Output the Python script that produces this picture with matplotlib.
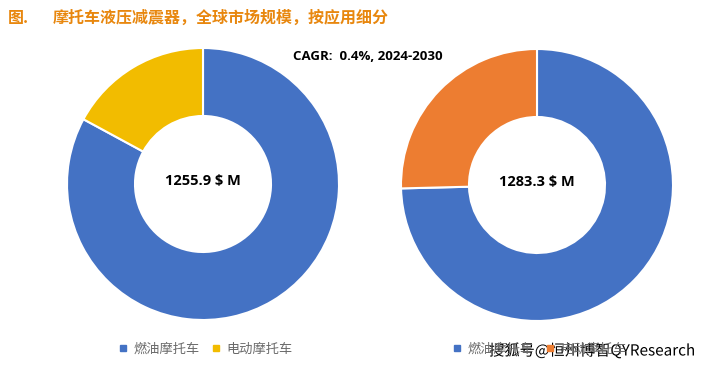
import matplotlib
matplotlib.use('Agg')
import matplotlib.pyplot as plt
from matplotlib.lines import Line2D
import matplotlib.patheffects as pe

plt.rcParams['font.family'] = ['Noto Sans CJK SC', 'DejaVu Sans']

# data
categories = ['燃油摩托车', '电动摩托车']
share_2024 = [82.9, 17.1]
share_2030 = [74.6, 25.4]
total_2024 = '1255.9 $ M'
total_2030 = '1283.3 $ M'
cagr_text = 'CAGR:  0.4%, 2024-2030'
title = '摩托车液压减震器，全球市场规模，按应用细分'

blue = '#4472C4'
yellow = '#F2BC00'
orange = '#ED7D31'
W, H = 716, 369

fig = plt.figure(figsize=(W / 100, H / 100), dpi=100)
fig.patch.set_facecolor('white')


def px_axes(x0, y0, x1, y1):
    return fig.add_axes([x0 / W, 1 - y1 / H, (x1 - x0) / W, (y1 - y0) / H])


def donut(ax, vals, cols, label):
    wedges, _ = ax.pie(vals, colors=cols, startangle=90, counterclock=False,
                       radius=1, wedgeprops=dict(width=0.5, edgecolor='white', linewidth=1.5))
    ax.set_xlim(-1, 1)
    ax.set_ylim(-1, 1)
    ax.text(0, 0.02, label, ha='center', va='center', fontsize=10.5,
            fontweight='bold', family=['Open Sans', 'DejaVu Sans'], color='black')
    ax.axis('off')
    return wedges


ax1 = px_axes(67, 48, 339, 320)
donut(ax1, share_2024, [blue, yellow], total_2024)

ax2 = px_axes(401, 49, 673, 321)
donut(ax2, share_2030, [blue, orange], total_2030)

# title
orange_t = '#E8870E'
fig.text(8 / W, 1 - 18 / H, '图.', color=orange_t, fontsize=11.5, fontweight='bold', va='center')
fig.text(53 / W, 1 - 18 / H, title, color=orange_t, fontsize=11.5, fontweight='bold', va='center')

fig.text(368 / W, 1 - 56 / H, cagr_text, ha='center', va='center', fontsize=9.5,
         fontweight='bold', family=['Open Sans', 'DejaVu Sans'])

# legends
def legend_at(x, cols):
    handles = [Line2D([], [], marker='s', linestyle='none', markersize=4,
                      markerfacecolor=c, markeredgecolor=c) for c in cols]
    fig.legend(handles, categories, loc='center left', bbox_to_anchor=(x / W, 1 - 349 / H),
               ncol=2, frameon=False, fontsize=9.5, handlelength=0.8, handletextpad=0.4,
               columnspacing=0.8, labelcolor='#6a6a6a', borderaxespad=0, borderpad=0)

legend_at(118, [blue, yellow])
legend_at(452, [blue, orange])

# watermark
fig.text(489 / W, 1 - 351 / H, '搜狐号@恒州博智QYResearch', fontsize=11, color='black',
         va='center', ha='left', fontweight='medium',
         path_effects=[pe.withStroke(linewidth=2, foreground='white')])

fig.savefig('out.png', dpi=100)
